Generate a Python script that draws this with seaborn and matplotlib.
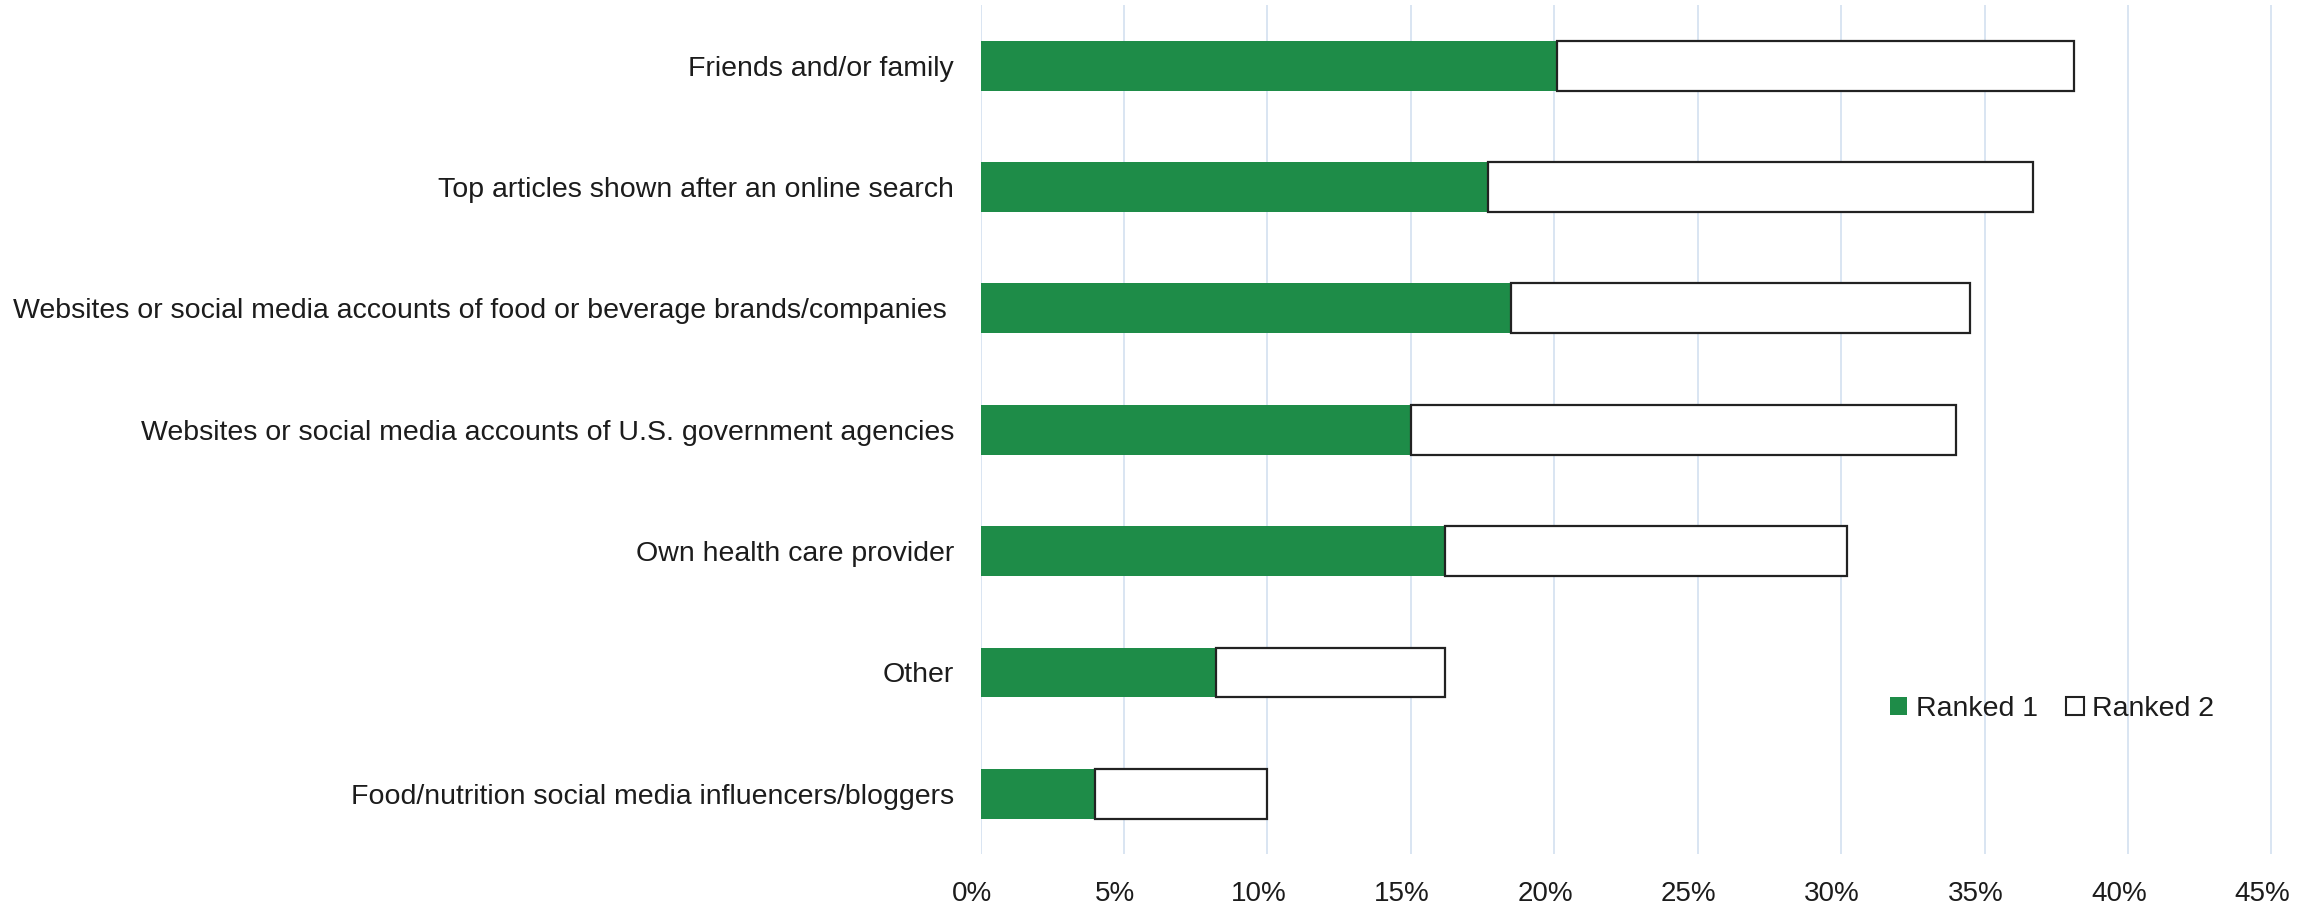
import matplotlib
matplotlib.use("Agg")
import matplotlib.pyplot as plt
import matplotlib.transforms as mtransforms
from matplotlib.patches import Patch
from matplotlib.ticker import FuncFormatter
import seaborn as sns
import pandas as pd

# Information sources, ranked first / second (percent of respondents)
sources = [
    "Friends and/or family",
    "Top articles shown after an online search",
    "Websites or social media accounts of food or beverage brands/companies ",
    "Websites or social media accounts of U.S. government agencies",
    "Own health care provider",
    "Other",
    "Food/nutrition social media influencers/bloggers",
]
ranked_1 = [20.1, 17.7, 18.5, 15.0, 16.2, 8.2, 4.0]
ranked_2 = [18.0, 19.0, 16.0, 19.0, 14.0, 8.0, 6.0]
series_names = ["Ranked 1", "Ranked 2"]
x_ticks = [0, 5, 10, 15, 20, 25, 30, 35, 40, 45]

GREEN = "#1E8C48"
EDGE = "#222222"
GRID = "#D9E5F2"
TEXT = "#1C1C1C"

sns.set_theme(style="white")
plt.rcParams["font.family"] = ["Liberation Sans", "DejaVu Sans"]
plt.rcParams["text.color"] = TEXT
plt.rcParams["xtick.color"] = TEXT
plt.rcParams["ytick.color"] = TEXT

df = pd.DataFrame({"source": sources, "r1": ranked_1, "r2": ranked_2})

fig = plt.figure(figsize=(23.16, 9.08), dpi=100)
ax = fig.add_axes([0.4234, 0.059, 0.9814 - 0.4234, 0.9945 - 0.059])

BAR_W = 0.41
# first-ranked share as solid green bars
sns.barplot(data=df, x="r1", y="source", orient="h", color=GREEN,
            width=BAR_W, saturation=1, edgecolor="none", linewidth=0,
            ax=ax, zorder=3)
# second-ranked share stacked on top as outlined white bars
ax.barh(range(len(sources)), df["r2"], left=df["r1"], height=BAR_W,
        color="white", edgecolor=EDGE, linewidth=1.6, zorder=3)

ax.set_xlim(0, 45.05)
ax.set_ylim(len(sources) - 0.5, -0.5)
ax.set_xticks(x_ticks)
ax.xaxis.set_major_formatter(FuncFormatter(lambda v, _: f"{v:.0f}%"))
ax.grid(axis="x", color=GRID, linewidth=1.4, zorder=0)
ax.grid(axis="y", visible=False)
ax.set_axisbelow(True)
for s in ax.spines.values():
    s.set_visible(False)
ax.set_xlabel("")
ax.set_ylabel("")
ax.tick_params(axis="x", length=0, pad=19, labelsize=20)
ax.tick_params(axis="y", length=0, pad=19, labelsize=20.5)

shift = mtransforms.ScaledTranslation(-9 / 100, 0, fig.dpi_scale_trans)
for lbl in ax.get_xticklabels():
    lbl.set_transform(lbl.get_transform() + shift)

handles = [
    Patch(facecolor=GREEN, edgecolor="none", label=series_names[0]),
    Patch(facecolor="white", edgecolor=EDGE, linewidth=1.5, label=series_names[1]),
]
ax.legend(handles=handles, loc="center", bbox_to_anchor=(0.829, 0.171),
          ncol=2, frameon=False, fontsize=20.5, handlelength=0.62,
          handleheight=0.62, handletextpad=0.3, columnspacing=1.0)

fig.savefig("out.png", dpi=100)
